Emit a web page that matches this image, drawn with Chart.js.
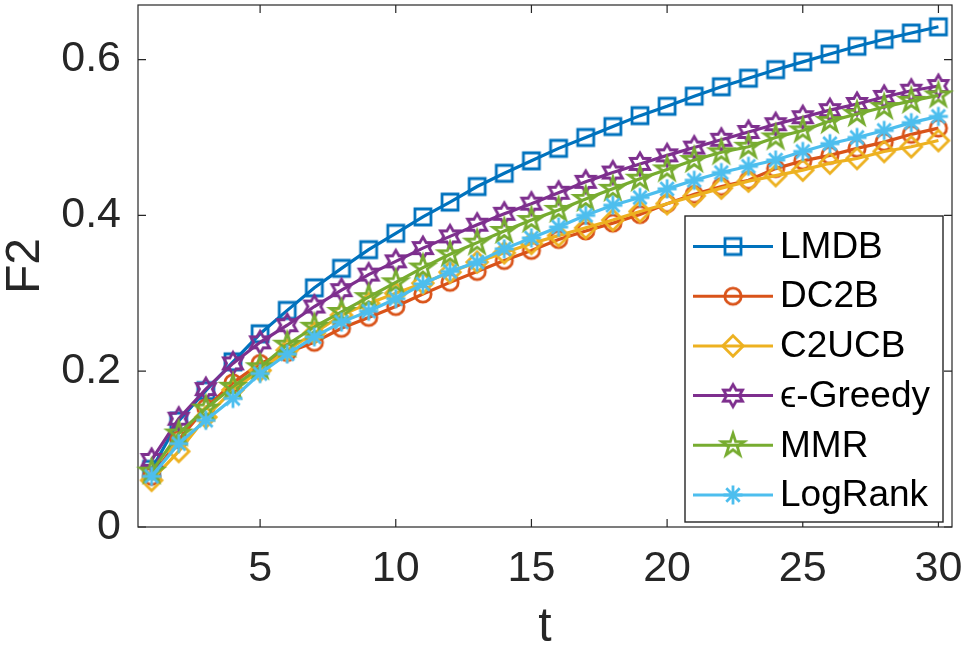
<!DOCTYPE html>
<html>
<head>
<meta charset="utf-8">
<script src="https://cdn.jsdelivr.net/npm/chart.js@4/dist/chart.umd.min.js"></script>
<style>
  html, body { margin: 0; padding: 0; background: #fff; }
  #wrap { width: 968px; height: 654px; position: relative; }
</style>
</head>
<body>
<div id="wrap"><canvas id="chart"></canvas></div>
<script>
/* ---------------- DATA ---------------- */
const T = [1,2,3,4,5,6,7,8,9,10,11,12,13,14,15,16,17,18,19,20,21,22,23,24,25,26,27,28,29,30];

const LMDB     = [0.074,0.136,0.175,0.212,0.248,0.278,0.307,0.332,0.356,0.377,0.398,0.417,0.437,0.454,0.470,
                  0.486,0.500,0.514,0.528,0.540,0.553,0.565,0.576,0.587,0.597,0.607,0.617,0.626,0.634,0.642];
const DC2B     = [0.065,0.112,0.153,0.185,0.210,0.224,0.237,0.255,0.269,0.283,0.299,0.314,0.328,0.342,0.355,
                  0.369,0.380,0.390,0.401,0.415,0.427,0.437,0.445,0.460,0.470,0.477,0.486,0.494,0.504,0.512];
const C2UCB    = [0.060,0.097,0.141,0.176,0.201,0.227,0.249,0.272,0.287,0.300,0.313,0.327,0.340,0.352,0.364,
                  0.374,0.384,0.394,0.405,0.415,0.425,0.435,0.444,0.451,0.458,0.467,0.473,0.482,0.488,0.496];
const EGREEDY  = [0.086,0.139,0.177,0.210,0.237,0.259,0.283,0.304,0.324,0.341,0.358,0.373,0.388,0.402,0.415,
                  0.429,0.443,0.455,0.466,0.477,0.487,0.497,0.507,0.517,0.526,0.535,0.543,0.552,0.560,0.566];
const MMR      = [0.071,0.120,0.152,0.180,0.205,0.234,0.257,0.276,0.295,0.314,0.333,0.350,0.365,0.380,0.394,
                  0.407,0.421,0.434,0.447,0.459,0.471,0.481,0.488,0.500,0.509,0.521,0.530,0.539,0.547,0.554];
const LOGRANK  = [0.065,0.107,0.137,0.165,0.197,0.222,0.244,0.263,0.277,0.293,0.312,0.328,0.340,0.357,0.371,
                  0.385,0.400,0.413,0.423,0.434,0.445,0.455,0.463,0.471,0.482,0.492,0.500,0.509,0.519,0.527];

const NAMES   = ["LMDB", "DC2B", "C2UCB", "\u03F5-Greedy", "MMR", "LogRank"];
const SERIES  = [LMDB, DC2B, C2UCB, EGREEDY, MMR, LOGRANK];
const COLORS  = ["#0072BD", "#D95319", "#EDB120", "#7E2F8E", "#77AC30", "#4DBEEE"];
const SHAPES  = ["square", "circle", "diamond", "hexagram", "pentagram", "asterisk"];

const X_TICKS = [5, 10, 15, 20, 25, 30];
const Y_TICKS = [0, 0.2, 0.4, 0.6];
const Y_TICK_LABELS = ["0", "0.2", "0.4", "0.6"];
const X_TITLE = "t";
const Y_TITLE = "F2";
/* -------------------------------------- */

const FONT = "'Liberation Sans', Arial, Helvetica, sans-serif";
const INK = "#262626";

/* marker images, drawn once per series */
function makeMarker(shape, color){
    const c = document.createElement('canvas');
    c.width = 36; c.height = 36;
    const g = c.getContext('2d');
    g.translate(18, 18);
    g.strokeStyle = color;
    g.lineWidth = 2.8;
    g.lineJoin = 'miter';
    g.beginPath();
    if(shape === 'square'){
        g.rect(-8, -8, 16, 16);
    } else if(shape === 'circle'){
        g.arc(0, 0, 8.2, 0, Math.PI*2);
    } else if(shape === 'diamond'){
        g.moveTo(0,-10.3); g.lineTo(10.3,0); g.lineTo(0,10.3); g.lineTo(-10.3,0); g.closePath();
    } else if(shape === 'hexagram' || shape === 'pentagram'){
        const n = shape === 'hexagram' ? 6 : 5;
        const R = shape === 'hexagram' ? 11 : 11.8;
        const r = shape === 'hexagram' ? R/Math.sqrt(3) : R*0.382;
        for(let i=0;i<n*2;i++){
            const a = -Math.PI/2 + i*Math.PI/n;
            const rr = i%2===0 ? R : r;
            const px = rr*Math.cos(a), py = rr*Math.sin(a);
            if(i===0) g.moveTo(px,py); else g.lineTo(px,py);
        }
        g.closePath();
    } else if(shape === 'asterisk'){
        for(let i=0;i<4;i++){
            const a = i*Math.PI/4;
            g.moveTo(-9.5*Math.cos(a), -9.5*Math.sin(a));
            g.lineTo( 9.5*Math.cos(a),  9.5*Math.sin(a));
        }
    }
    g.stroke();
    return c;
}

const MARKERS = SHAPES.map((s, i) => makeMarker(s, COLORS[i]));

const datasets = SERIES.map((vals, i) => ({
    label: NAMES[i],
    data: T.map((t, k) => ({x: t, y: vals[k]})),
    borderColor: COLORS[i],
    backgroundColor: COLORS[i],
    borderWidth: 3.2,
    pointStyle: MARKERS[i],
    pointRadius: 8,
    tension: 0,
    fill: false,
    clip: false,
    order: SERIES.length - i   // first series drawn first, last on top
}));

/* axes box with inward ticks (MATLAB style) + axis titles */
const boxPlugin = {
    id: 'box',
    beforeDatasetsDraw(chart){
        const {ctx, chartArea: a, scales} = chart;
        const tl = 8;
        ctx.save();
        ctx.strokeStyle = INK;
        ctx.lineWidth = 1.2;
        ctx.strokeRect(a.left, a.top, a.right - a.left, a.bottom - a.top);
        ctx.beginPath();
        X_TICKS.forEach(v => {
            const x = scales.x.getPixelForValue(v);
            ctx.moveTo(x, a.bottom); ctx.lineTo(x, a.bottom - tl);
            ctx.moveTo(x, a.top);    ctx.lineTo(x, a.top + tl);
        });
        Y_TICKS.forEach(v => {
            const y = scales.y.getPixelForValue(v);
            ctx.moveTo(a.left, y);  ctx.lineTo(a.left + tl, y);
            ctx.moveTo(a.right, y); ctx.lineTo(a.right - tl, y);
        });
        ctx.stroke();

        // axis titles
        ctx.fillStyle = INK;
        ctx.font = `48px ${FONT}`;
        ctx.textAlign = 'center';
        ctx.textBaseline = 'middle';
        ctx.fillText(X_TITLE, (a.left + a.right) / 2, a.bottom + 101);
        ctx.translate(a.left - 112, (a.top + a.bottom) / 2);
        ctx.rotate(-Math.PI / 2);
        ctx.fillText(Y_TITLE, 0, 0);
        ctx.restore();
    }
};

/* legend box inside the axes, lower right */
const legendPlugin = {
    id: 'boxLegend',
    afterDatasetsDraw(chart){
        const {ctx, chartArea: a} = chart;
        const right = a.right - 9, bottom = a.bottom - 5;
        const left = right - 258, top = bottom - 306;
        const rowH = 49.7;
        ctx.save();
        ctx.fillStyle = '#fff';
        ctx.fillRect(left, top, right - left, bottom - top);
        ctx.strokeStyle = INK;
        ctx.lineWidth = 1.4;
        ctx.strokeRect(left, top, right - left, bottom - top);
        ctx.font = `37px ${FONT}`;
        ctx.textBaseline = 'middle';
        ctx.textAlign = 'left';
        chart.data.datasets.forEach((ds, i) => {
            const y = top + 30.5 + i*rowH;
            ctx.strokeStyle = ds.borderColor;
            ctx.lineWidth = 3;
            ctx.beginPath();
            ctx.moveTo(left + 8, y); ctx.lineTo(left + 88, y);
            ctx.stroke();
            const m = ds.pointStyle;
            ctx.drawImage(m, left + 48 - m.width/2, y - m.height/2);
            ctx.fillStyle = '#000';
            ctx.fillText(ds.label, left + 95, y + 1);
        });
        ctx.restore();
    }
};

new Chart(document.getElementById('chart').getContext('2d'), {
    type: 'line',
    data: { datasets },
    options: {
        responsive: true,
        maintainAspectRatio: false,
        animation: false,
        events: [],
        layout: { autoPadding: false, padding: { top: 5, right: 16, left: 0, bottom: 0 } },
        plugins: { legend: { display: false }, tooltip: { enabled: false } },
        scales: {
            x: {
                type: 'linear',
                min: 0.5, max: 30.5,
                grid: { display: false, drawTicks: false },
                border: { display: false },
                afterBuildTicks: s => { s.ticks = X_TICKS.map(v => ({value: v})); },
                afterFit: s => { s.height = 127; s.paddingLeft = 0; s.paddingRight = 0; },
                ticks: {
                    autoSkip: false, maxRotation: 0, padding: 16,
                    color: INK, font: { family: FONT, size: 43 },
                    callback: v => String(v)
                }
            },
            y: {
                type: 'linear',
                min: 0, max: 0.67,
                grid: { display: false, drawTicks: false },
                border: { display: false },
                afterBuildTicks: s => { s.ticks = Y_TICKS.map(v => ({value: v})); },
                afterFit: s => { s.width = 138; s.paddingTop = 0; s.paddingBottom = 0; },
                ticks: {
                    autoSkip: false, padding: 17,
                    color: INK, font: { family: FONT, size: 43 },
                    callback: (v) => Y_TICK_LABELS[Y_TICKS.indexOf(v)] ?? String(v)
                }
            }
        }
    },
    plugins: [boxPlugin, legendPlugin]
});
</script>
</body>
</html>
